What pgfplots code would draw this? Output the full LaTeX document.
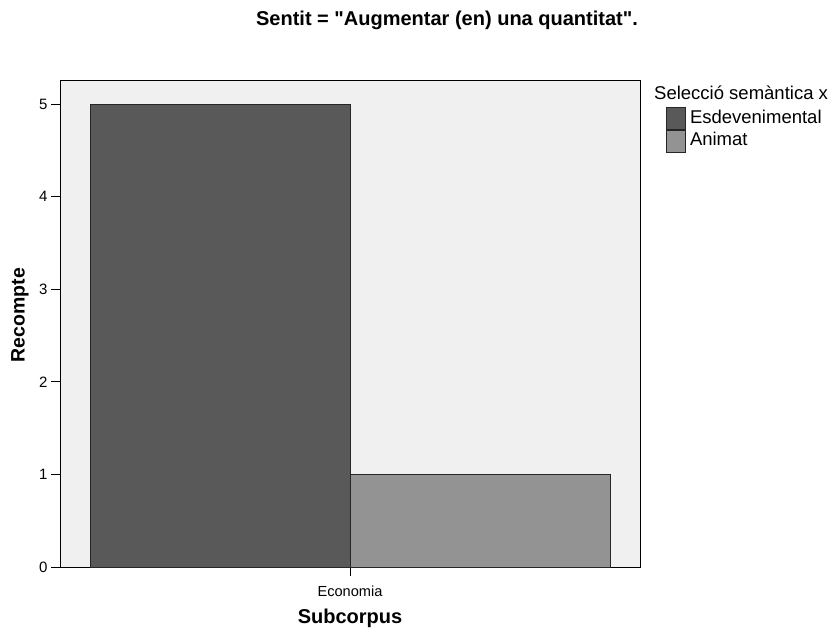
\documentclass[border=0pt]{standalone}
\usepackage{fontspec}
\setmainfont{Liberation Sans}[Ligatures=TeXOff]
\usepackage{pgfplots}
\pgfplotsset{compat=1.18}

\definecolor{bgc}{RGB}{240,240,240}
\definecolor{darkbar}{RGB}{89,89,89}
\definecolor{lightbar}{RGB}{147,147,147}

\begin{document}
\begin{tikzpicture}
\useasboundingbox (0,0) rectangle (831pt,-630pt);
\begin{axis}[
  name=main,
  at={(60pt,-567pt)}, anchor=south west,
  scale only axis,
  width=580pt, height=487pt,
  xmin=-1, xmax=1,
  ymin=0, ymax=5.26,
  ybar=0pt,
  bar width=260pt,
  xtick={0}, xticklabels={Economia},
  ytick={0,1,2,3,4,5},
  xtick pos=left, ytick pos=left,
  tick align=outside,
  major tick length=9pt,
  tick style={black, line width=0.8pt},
  axis line style={black, line width=0.8pt},
  axis background/.style={fill=bgc},
  /pgf/number format/assume math mode=true,
  ticklabel style={font=\fontsize{15}{18}\selectfont},
  xticklabel style={font=\fontsize{14.6}{17}\selectfont, yshift=-6pt},
  xlabel={Subcorpus},
  ylabel={Recompte},
  xlabel style={font=\bfseries\fontsize{20}{24}\selectfont, at={(axis description cs:0.5,-0.1047)}, anchor=center},
  ylabel style={font=\bfseries\fontsize{19.5}{24}\selectfont, at={(axis description cs:-0.069,0.517)}, anchor=center},
  legend style={at={(rel axis cs:1,1)}, anchor=north west, xshift=26pt, yshift=-27pt,
    draw=none, fill=none, inner sep=0pt, row sep=0.5pt,
    font=\fontsize{18.5}{22}\selectfont,
    nodes={text height=13pt, text depth=4pt, inner sep=0pt, anchor=west}},
  legend cell align=left,
  legend image code/.code={\draw[#1, line width=0.8pt] (0pt,-10.5pt) rectangle (19pt,11pt);},
]
\addplot[fill=darkbar, draw=black!85, line width=0.8pt] coordinates {(0,5)};
\addplot[fill=lightbar, draw=black!85, line width=0.8pt] coordinates {(0,1)};
\legend{\hspace{4pt}Esdevenimental, \hspace{4pt}Animat}
\end{axis}
\node[anchor=west, font=\fontsize{18.5}{22}\selectfont, inner sep=0pt] at ([xshift=14pt, yshift=-13pt]main.north east) {Selecció semàntica x};
\node[font=\bfseries\fontsize{20}{24}\selectfont] at (447pt,-20pt) {Sentit = "Augmentar (en) una quantitat".};
\end{tikzpicture}
\end{document}
